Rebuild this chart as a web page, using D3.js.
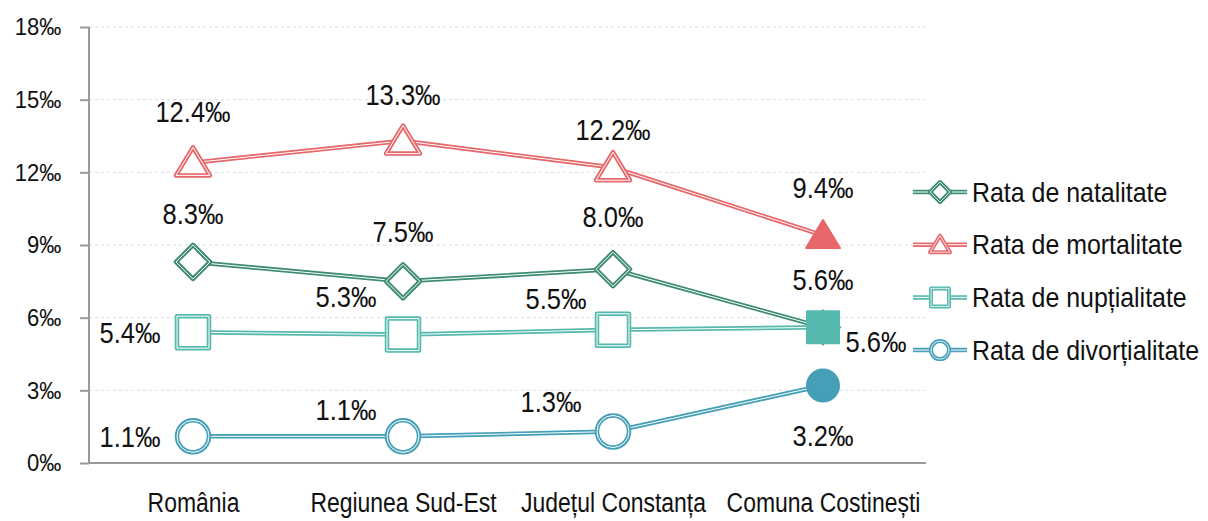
<!DOCTYPE html>
<html><head><meta charset="utf-8">
<script src="https://cdn.jsdelivr.net/npm/d3@7"></script>
<style>body{margin:0;background:#fff}svg{display:block}text{font-family:"Liberation Sans",Arial,sans-serif;fill:#111}</style>
</head><body><svg id="c" width="1208" height="521"></svg>
<script>
const categories = ["România","Regiunea Sud-Est","Județul Constanța","Comuna Costinești"];
const seriesNames = ["Rata de natalitate","Rata de mortalitate","Rata de nupțialitate","Rata de divorțialitate"];
const natalitate = [8.3,7.5,8.0,5.6];
const mortalitate = [12.4,13.3,12.2,9.4];
const nuptialitate = [5.4,5.3,5.5,5.6];
const divortialitate = [1.1,1.1,1.3,3.2];
const yTicks = [0,3,6,9,12,15,18];

// styling / placement (not data)
const colors = ["#3d8c6f","#e8676a","#55b9ae","#459fb6"];
const shapes = ["diamond","triangle","square","circle"];
const labelOffsets = [
  [[0,-48],[0,-49],[0,-52],[0,-47]],
  [[0,-51],[0,-46],[0,-38],[0,-47]],
  [[-63,1],[-57,-38],[-57,-31],[53,15]],
  [[-63,1],[-57,-26],[-62,-30],[0,50]]
];
const allValues = [natalitate,mortalitate,nuptialitate,divortialitate];

const svg = d3.select("#c");
const x = d3.scalePoint().domain(categories).range([88,928]).padding(0.5);
const y = d3.scaleLinear().domain([0,18]).range([463,27]);

function narrowText(g, tx, ty, str, size, sx, anchor){
  return g.append("text").attr("transform",`translate(${tx},${ty}) scale(${sx},1)`)
    .attr("text-anchor",anchor).attr("dominant-baseline","central")
    .style("font-size",size+"px").text(str);
}

// grid
svg.append("g").selectAll("line").data(yTicks.filter(d=>d>0)).join("line")
  .attr("x1",89).attr("x2",926).attr("y1",d=>y(d)).attr("y2",d=>y(d))
  .attr("stroke","#dcdcdc").attr("stroke-width",1).attr("stroke-dasharray","3,3");

// y axis
const ya = svg.append("g").attr("transform","translate(89,0)")
  .call(d3.axisLeft(y).tickValues(yTicks).tickSize(9).tickPadding(21).tickFormat(d=>d+"‰"));
ya.select(".domain").attr("stroke","#9a9a9a").attr("stroke-width",2).attr("d","M0,"+y(18)+"V"+y(0));
ya.selectAll(".tick line").attr("stroke","#9a9a9a").attr("stroke-width",2);
ya.selectAll(".tick text").style("font-size","24px").attr("fill","#111")
  .attr("font-family",null).attr("transform","scale(0.92,1)");

// x axis
const xa = svg.append("g").attr("transform","translate(0,"+y(0)+")")
  .call(d3.axisBottom(x).tickSize(0).tickPadding(26));
xa.select(".domain").attr("stroke","#9a9a9a").attr("stroke-width",2).attr("d","M88,0H926");
xa.selectAll(".tick text").style("font-size","27px").attr("fill","#111")
  .attr("font-family",null).attr("y",49).attr("dy","0").attr("transform","scale(0.85,1)");

function symbolPath(shape, s){
  if(shape==="diamond") return `M0,${-s}L${s},0L0,${s}L${-s},0Z`;
  if(shape==="triangle") return `M0,${-s*0.9}L${s},${s*0.75}L${-s},${s*0.75}Z`;
  if(shape==="square") return `M${-s},${-s}H${s}V${s}H${-s}Z`;
  return `M${-s},0A${s},${s} 0 1,1 ${s},0A${s},${s} 0 1,1 ${-s},0Z`;
}
const sizes = {diamond:17,triangle:17,square:16,circle:16};

const line = d3.line().x(d=>x(d.c)).y(d=>y(d.v));
allValues.forEach((vals,i)=>{
  const pts = vals.map((v,j)=>({c:categories[j],v}));
  const g = svg.append("g");
  g.append("path").attr("d",line(pts)).attr("fill","none").attr("stroke",colors[i]).attr("stroke-width",4.5);
  g.append("path").attr("d",line(pts)).attr("fill","none").attr("stroke","#fff").attr("stroke-width",1);
  pts.forEach((p,j)=>{
    const last = j===pts.length-1;
    const t = `translate(${x(p.c)},${y(p.v)})`;
    const d = symbolPath(shapes[i], sizes[shapes[i]]);
    if(last){
      g.append("path").attr("d",d).attr("transform",t).attr("fill",colors[i]).attr("stroke",colors[i]).attr("stroke-width",2).attr("stroke-linejoin","round");
    } else {
      g.append("path").attr("d",d).attr("transform",t).attr("fill","#fff").attr("stroke",colors[i]).attr("stroke-width",4.5).attr("stroke-linejoin","round");
      g.append("path").attr("d",d).attr("transform",t).attr("fill","none").attr("stroke","#fff").attr("stroke-width",1);
    }
  });
});
// labels
const lab = svg.append("g");
allValues.forEach((vals,i)=>{
  vals.forEach((v,j)=>{
    narrowText(lab, x(categories[j])+labelOffsets[i][j][0], y(v)+labelOffsets[i][j][1], v.toFixed(1)+"‰", 29, 0.88, "middle");
  });
});

// legend
const lg = svg.append("g");
seriesNames.forEach((n,i)=>{
  const cy = 192 + i*52.7;
  const g = lg.append("g").attr("transform",`translate(0,${cy})`);
  g.append("line").attr("x1",913).attr("x2",967).attr("y1",0).attr("y2",0).attr("stroke",colors[i]).attr("stroke-width",4.5);
  g.append("line").attr("x1",913).attr("x2",967).attr("y1",0).attr("y2",0).attr("stroke","#fff").attr("stroke-width",1);
  const sz = {diamond:10,triangle:10,square:9,circle:9}[shapes[i]];
  const d = symbolPath(shapes[i], sz);
  g.append("path").attr("d",d).attr("transform","translate(940,0)").attr("fill","#fff").attr("stroke",colors[i]).attr("stroke-width",4).attr("stroke-linejoin","round");
  g.append("path").attr("d",d).attr("transform","translate(940,0)").attr("fill","none").attr("stroke","#fff").attr("stroke-width",0.8);
  narrowText(g, 972, 0, n, 28, 0.89, "start");
});
</script></body></html>
